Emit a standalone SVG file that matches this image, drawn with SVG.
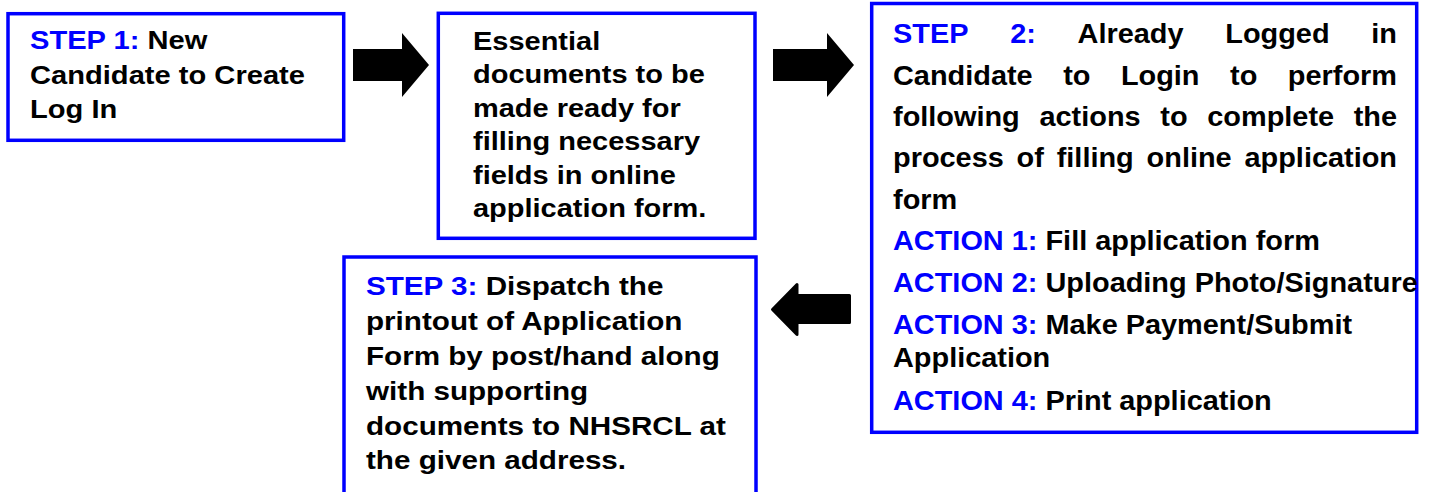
<svg xmlns="http://www.w3.org/2000/svg" width="1434" height="492" viewBox="0 0 1434 492">
<style>
.box{fill:#fff;stroke:#0000FF;stroke-width:3.5}
.t{font-family:"Liberation Sans",Arial,Helvetica,sans-serif;font-weight:bold;fill:#000}
.s26{font-size:26px}
.s27{font-size:27px}
.b{fill:#0000FF}
.arr{fill:#000}
.arrR{fill:#000;stroke:#000;stroke-width:3;stroke-linejoin:round}
</style>
<rect width="1434" height="492" fill="#fff"/>
<g id="step1">
<rect class="box" x="8" y="13.7" width="335.7" height="126.6"/>
<g transform="translate(30 0) scale(1.12 1)">
<text class="t s26" x="0" y="49.5"><tspan class="b">STEP 1:</tspan> New</text>
<text class="t s26" x="0" y="84">Candidate to Create</text>
<text class="t s26" x="0" y="118.3">Log In</text>
</g>
</g>
<g id="documents">
<rect class="box" x="438.3" y="13.3" width="316.7" height="225"/>
<g transform="translate(473 0) scale(1.115 1)">
<text class="t s26" x="0" y="50">Essential</text>
<text class="t s26" x="0" y="83.5">documents to be</text>
<text class="t s26" x="0" y="117">made ready for</text>
<text class="t s26" x="0" y="150.5">filling necessary</text>
<text class="t s26" x="0" y="184">fields in online</text>
<text class="t s26" x="0" y="217.5">application form.</text>
</g>
</g>
<g id="step2">
<rect class="box" x="871.7" y="3.5" width="545" height="428.8"/>
<g transform="scale(1.07 1)">
<text class="t s27" y="43.5"><tspan class="b" x="834.6">STEP</tspan><tspan class="b" x="944.1">2:</tspan><tspan x="1007.1">Already</tspan><tspan x="1145.1">Logged</tspan><tspan x="1281.6">in</tspan></text>
<text class="t s27" y="84.8"><tspan x="834.6">Candidate</tspan><tspan x="993.6">to</tspan><tspan x="1047.6">Login</tspan><tspan x="1149.6">to</tspan><tspan x="1203.6">perform</tspan></text>
<text class="t s27" y="126.1"><tspan x="834.6">following</tspan><tspan x="971.5">actions</tspan><tspan x="1084.4">to</tspan><tspan x="1128.3">complete</tspan><tspan x="1265.2">the</tspan></text>
<text class="t s27" y="167.4"><tspan x="834.6">process</tspan><tspan x="950.1">of</tspan><tspan x="987.6">filling</tspan><tspan x="1071.6">online</tspan><tspan x="1163.1">application</tspan></text>
<text class="t s27" x="834.6" y="208.7">form</text>
<text class="t s27" x="834.6" y="250"><tspan class="b">ACTION 1:</tspan> Fill application form</text>
<text class="t s27" x="834.6" y="292"><tspan class="b">ACTION 2:</tspan> Uploading Photo/Signature</text>
<text class="t s27" x="834.6" y="334"><tspan class="b">ACTION 3:</tspan> Make Payment/Submit</text>
<text class="t s27" x="834.6" y="367.5">Application</text>
<text class="t s27" x="834.6" y="410"><tspan class="b">ACTION 4:</tspan> Print application</text>
</g>
</g>
<g id="step3">
<rect class="box" x="344" y="257" width="412" height="300"/>
<g transform="translate(366 0) scale(1.14 1)">
<text class="t s26" x="0" y="295.5"><tspan class="b">STEP 3:</tspan> Dispatch the</text>
<text class="t s26" x="0" y="330.3">printout of Application</text>
<text class="t s26" x="0" y="365.1">Form by post/hand along</text>
<text class="t s26" x="0" y="399.9">with supporting</text>
<text class="t s26" x="0" y="434.7">documents to NHSRCL at</text>
<text class="t s26" x="0" y="469.5">the given address.</text>
</g>
</g>
<g id="connectors">
<polygon class="arr" points="353,49 402,49 402,33 429,65 402,97 402,81 353,81"/>
<polygon class="arr" points="773,49 827,49 827,33 854,65 827,97 827,81 773,81"/>
<polygon class="arrR" points="772.5,309.5 797,284.5 797,295.5 849.5,295.5 849.5,322.5 797,322.5 797,334.5"/>
</g>
</svg>
